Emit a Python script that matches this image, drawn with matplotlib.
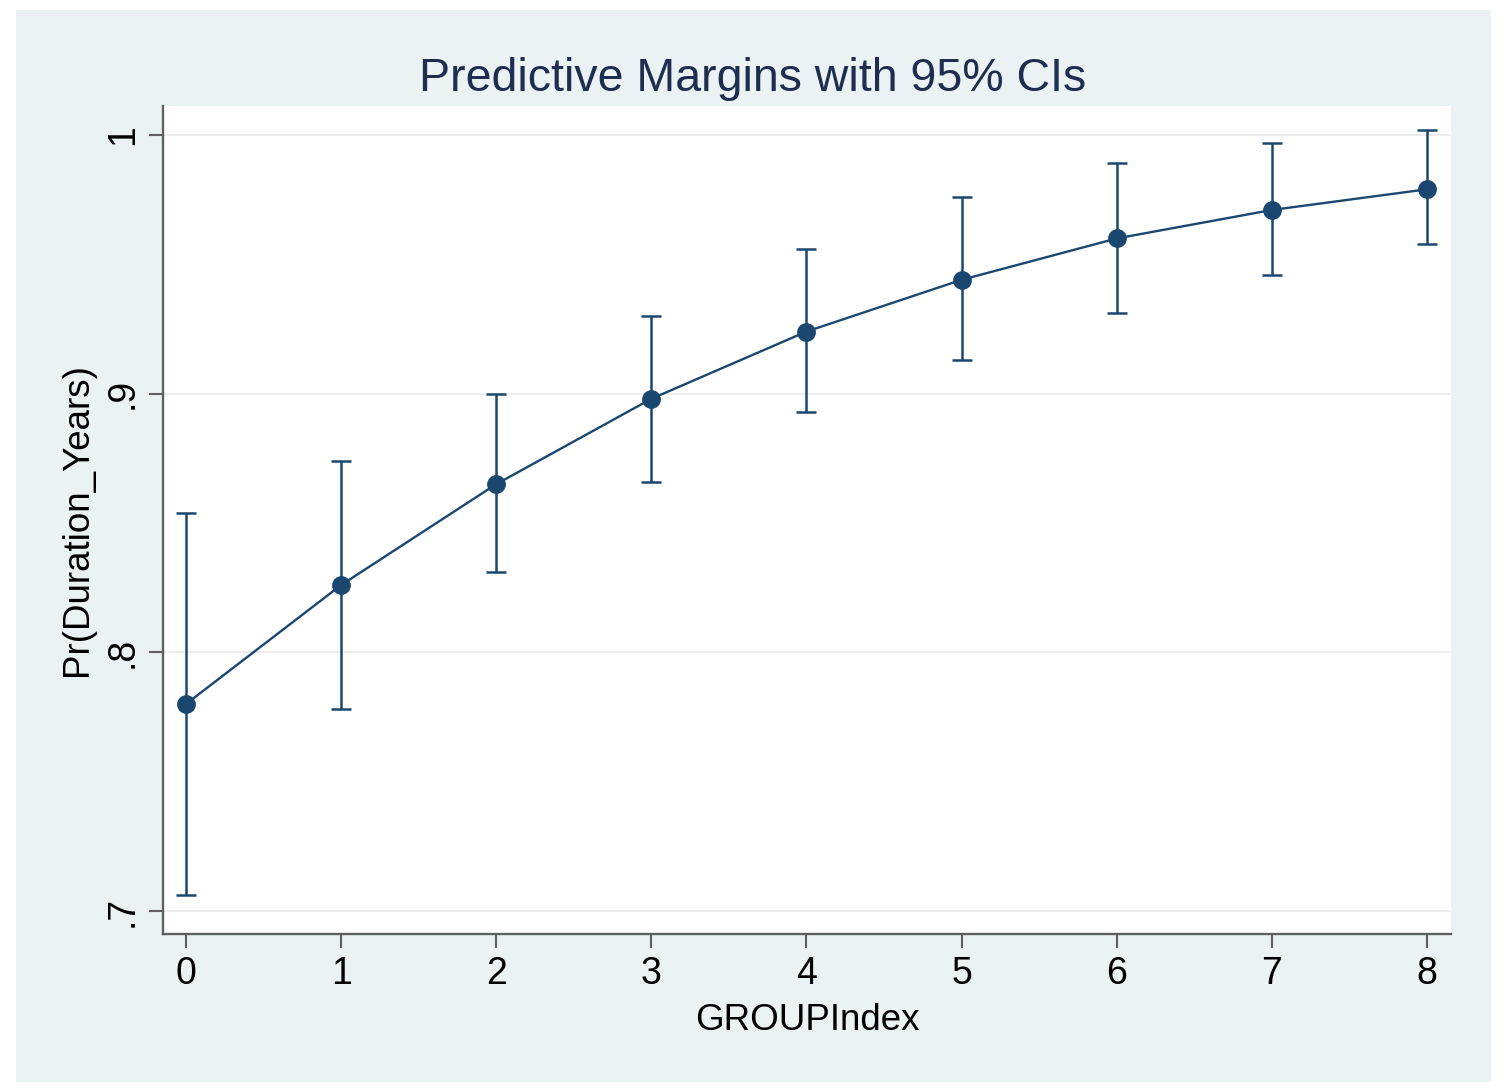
import matplotlib.pyplot as plt
from matplotlib.patches import Rectangle

# margins by GROUPIndex
group_index = [0, 1, 2, 3, 4, 5, 6, 7, 8]
margin = [0.780, 0.826, 0.865, 0.898, 0.924, 0.944, 0.960, 0.971, 0.979]
ci_low = [0.706, 0.778, 0.831, 0.866, 0.893, 0.913, 0.931, 0.946, 0.958]
ci_high = [0.854, 0.874, 0.900, 0.930, 0.956, 0.976, 0.989, 0.997, 1.002]
y_ticks = [0.7, 0.8, 0.9, 1.0]
y_tick_labels = ['.7', '.8', '.9', '1']

plt.rcParams['font.family'] = ['Liberation Sans', 'DejaVu Sans']

W, H = 1506, 1092
fig = plt.figure(figsize=(W / 100, H / 100), dpi=100, facecolor='white')

# stata-like light blue outer panel
fig.patches.append(Rectangle((16 / W, 1 - 1082 / H), (1491 - 16) / W, (1082 - 10) / H,
                             transform=fig.transFigure, facecolor='#eaf2f3',
                             edgecolor='none', zorder=-5))

ax = fig.add_axes([163 / W, 1 - 934 / H, (1451 - 163) / W, (934 - 106) / H])
ax.set_zorder(2)
ax.set_facecolor('white')

navy = '#1a476f'
yerr = [[m - lo for m, lo in zip(margin, ci_low)],
        [hi - m for m, hi in zip(margin, ci_high)]]
ax.errorbar(group_index, margin, yerr=yerr, fmt='none', ecolor=navy,
            elinewidth=1.8, capsize=7, capthick=1.8, zorder=3)
ax.plot(group_index, margin, color=navy, linewidth=1.7, marker='o',
        markersize=12.5, markerfacecolor=navy, markeredgecolor=navy, zorder=4)

ax.set_xlim(-0.148, 8.155)
ax.set_ylim(0.6911, 1.0112)
ax.set_xticks(group_index)
ax.set_yticks(y_ticks)
ax.set_yticklabels(y_tick_labels)

ax.grid(axis='y', color='#eaeaea', linewidth=1.2, zorder=1)
ax.set_axisbelow(True)

for s in ['top', 'right']:
    ax.spines[s].set_visible(False)
for s in ['left', 'bottom']:
    ax.spines[s].set_color('#5f5f5f')
    ax.spines[s].set_linewidth(1.7)

ax.tick_params(axis='both', colors='#5f5f5f', length=10, width=1.5,
               labelsize=27, labelcolor='black')
ax.tick_params(axis='x', pad=6)
ax.tick_params(axis='y', pad=6)
for lab in ax.get_yticklabels():
    lab.set_rotation(90)
    lab.set_va('center')
    lab.set_ha('right')

ax.set_xlabel('GROUPIndex', fontsize=26.5, labelpad=8)
ax.set_ylabel('Pr(Duration_Years)', fontsize=26.5, labelpad=7)

fig.text(0.5, 1 - 91 / H, 'Predictive Margins with 95% CIs', ha='center',
         va='baseline', fontsize=33.5, color='#1e2d50')

fig.savefig('out.png', dpi=100, facecolor=fig.get_facecolor())
